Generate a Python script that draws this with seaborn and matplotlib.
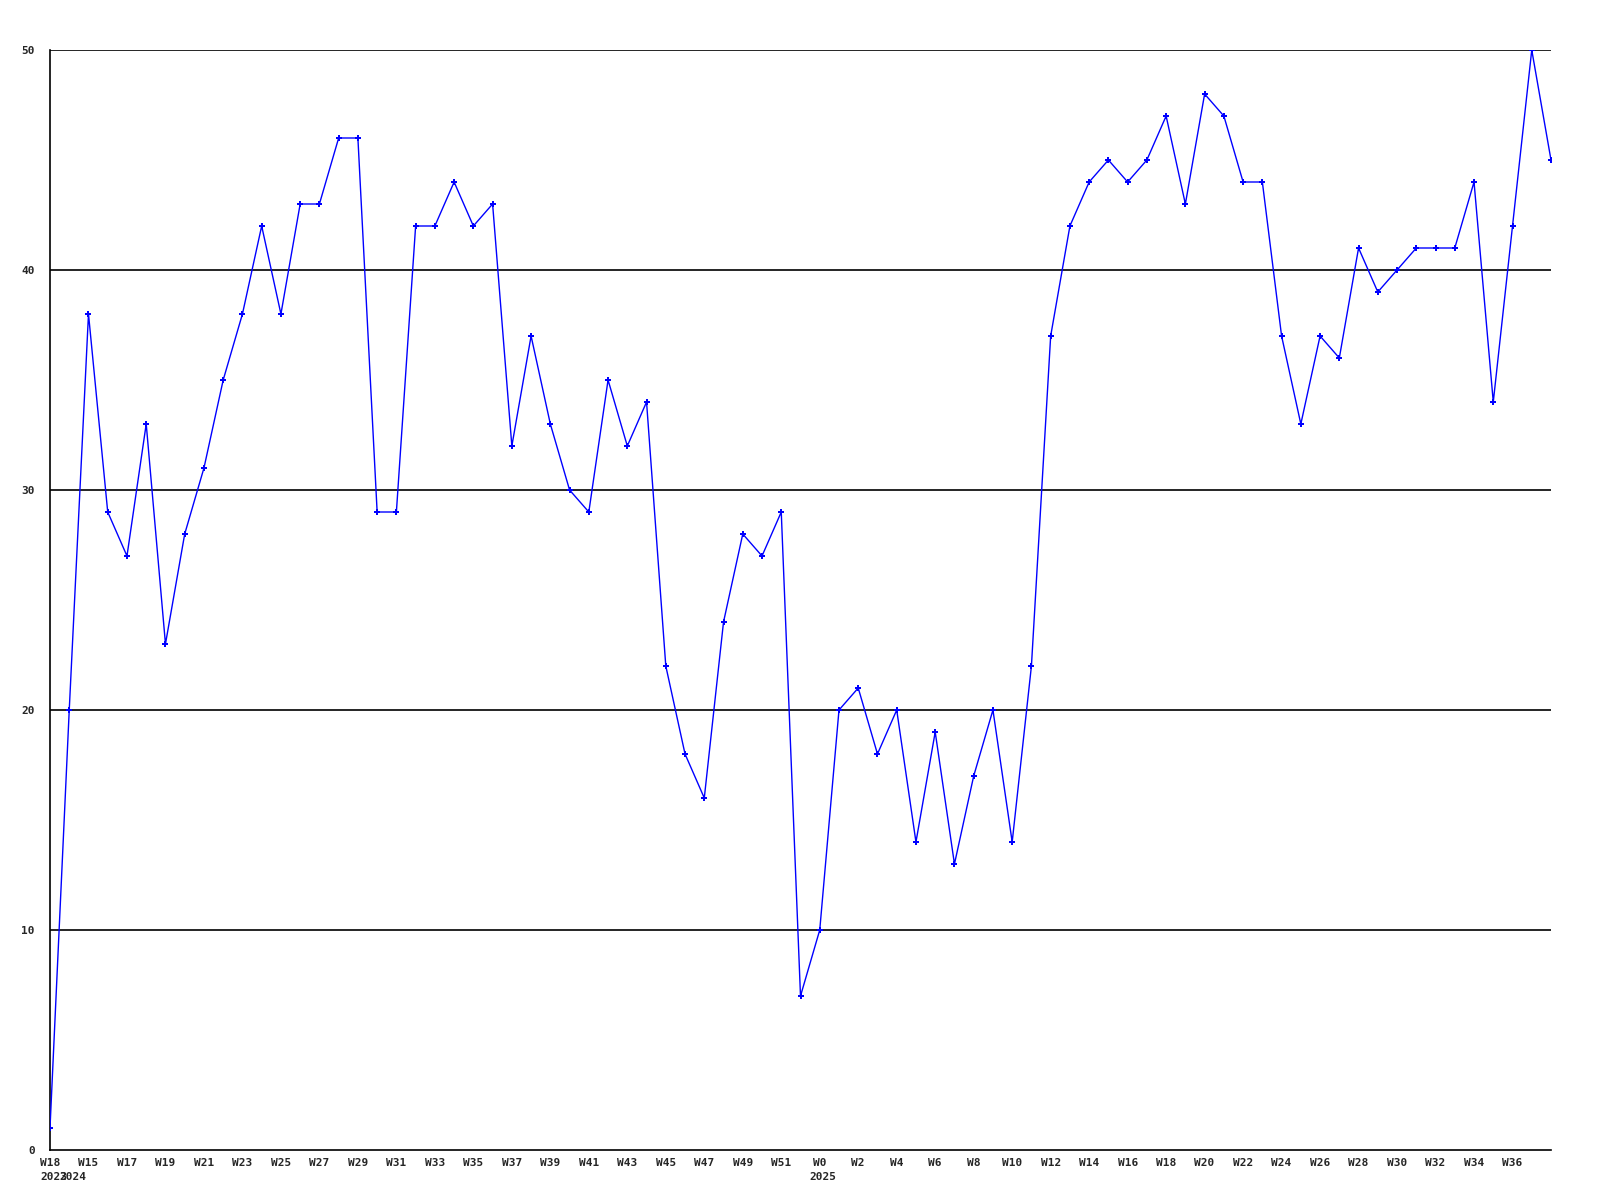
import seaborn as sns
import pandas as pd
import matplotlib.pyplot as plt
import matplotlib.transforms as mtransforms

# week numbers along the x axis (first point is from 2023, then 2024 from W14, then 2025)
week_numbers = [18] + list(range(14, 53)) + list(range(0, 39))
week_labels = [f"W{w}" for w in week_numbers]

# year markers: index of point -> year label
year_positions = [0, 1, 40]
year_names = ["2023", "2024", "2025"]

counts = [
    1, 20, 38, 29, 27, 33, 23, 28, 31, 35,
    38, 42, 38, 43, 43, 46, 46, 29, 29, 42,
    42, 44, 42, 43, 32, 37, 33, 30, 29, 35,
    32, 34, 22, 18, 16, 24, 28, 27, 29, 7,
    10, 20, 21, 18, 20, 14, 19, 13, 17, 20,
    14, 22, 37, 42, 44, 45, 44, 45, 47, 43,
    48, 47, 44, 44, 37, 33, 37, 36, 41, 39,
    40, 41, 41, 41, 44, 34, 42, 50, 45,
]

df = pd.DataFrame({"idx": range(len(counts)), "week": week_labels, "count": counts})

sns.set_style("white")
plt.rcParams["font.family"] = ["DejaVu Sans Mono"]

fig = plt.figure(figsize=(16, 12), dpi=100)
ax = fig.add_axes([50 / 1600, 50 / 1200, 1501 / 1600, 1100 / 1200])

# horizontal grid lines every 10
for y in [10, 20, 30, 40, 50]:
    ax.axhline(y, color="black", linewidth=1.2, zorder=1)

sns.lineplot(
    data=df, x="idx", y="count", ax=ax, color="#0000ff", linewidth=1,
    marker="P", markersize=4, markeredgewidth=0, zorder=3,
)

ax.set_xlim(0, len(counts) - 1)
ax.set_ylim(0, 50)

for side in ["top", "right"]:
    ax.spines[side].set_visible(False)
for side in ["left", "bottom"]:
    ax.spines[side].set_color("black")
    ax.spines[side].set_linewidth(1.2)

ax.set_yticks([0, 10, 20, 30, 40, 50])
ax.set_yticklabels(["0", "10", "20", "30", "40", "50"], fontsize=8, fontweight="bold")
ax.tick_params(axis="y", length=0, pad=11)

tick_idx = list(range(0, len(counts) - 1, 2))
ax.set_xticks(tick_idx)
ax.set_xticklabels([week_labels[i] for i in tick_idx], fontsize=8, fontweight="bold")
ax.tick_params(axis="x", length=0, pad=6)

# year labels on a second line under the week labels
trans = (mtransforms.blended_transform_factory(ax.transData, ax.transAxes)
         + mtransforms.ScaledTranslation(-10 / 100, -22 / 100, fig.dpi_scale_trans))
for pos, name in zip(year_positions, year_names):
    ax.text(pos, 0, name, transform=trans, fontsize=8, fontweight="bold",
            ha="left", va="top")

ax.set_xlabel("")
ax.set_ylabel("")

plt.savefig("out.png", dpi=100)
